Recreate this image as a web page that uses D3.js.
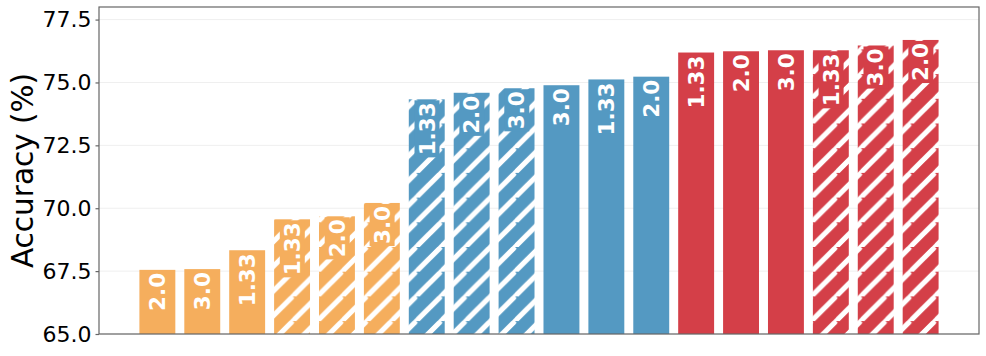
<!DOCTYPE html>
<html>
<head>
<meta charset="utf-8">
<script src="https://cdn.jsdelivr.net/npm/d3@7"></script>
<style>
  html, body { margin: 0; padding: 0; background: #fff; }
  svg { display: block; }
</style>
</head>
<body>
<svg id="chart" width="986" height="356"></svg>
<script>
// ---- data ----
const labels  = ["2.0","3.0","1.33","1.33","2.0","3.0","1.33","2.0","3.0","3.0","1.33","2.0","1.33","2.0","3.0","1.33","3.0","2.0"];
const groups  = ["orange","orange","orange","orange","orange","orange","blue","blue","blue","blue","blue","blue","red","red","red","red","red","red"];
const hatched = [false,false,false,true,true,true,true,true,true,false,false,false,false,false,false,true,true,true];
const values  = [67.55,67.58,68.33,69.56,69.68,70.21,74.33,74.59,74.77,74.89,75.12,75.23,76.19,76.24,76.28,76.28,76.47,76.69];
const yTicks  = [65.0,67.5,70.0,72.5,75.0,77.5];
const yLabel  = "Accuracy (%)";

const colors = { orange: "#f5ae5d", blue: "#5499c2", red: "#d43f48" };

// ---- layout ----
const svg = d3.select("#chart");
const L = 99, R = 979, T = 7, B = 334;

const x = d3.scaleLinear().domain([-1.3, 18.3]).range([L, R]);
const y = d3.scaleLinear().domain([65, 78]).range([B, T]);
const barW = x(0.8) - x(0);

// hatch patterns
const defs = svg.append("defs");
const P = 24.7;
Object.entries(colors).forEach(([k, c]) => {
  const p = defs.append("pattern")
    .attr("id", "hatch-" + k)
    .attr("patternUnits", "userSpaceOnUse")
    .attr("width", P).attr("height", P)
    .attr("x", 21).attr("y", 0);
  p.append("rect").attr("width", P).attr("height", P).attr("fill", c);
  const sw = 4.8;
  [[-P, P, 0, 0], [0, P, P, 0], [0, 2 * P, 2 * P, 0], [-P, 2*P, P, 0]].forEach(([x1, y1, x2, y2]) => {
    p.append("line").attr("x1", x1).attr("y1", y1).attr("x2", x2).attr("y2", y2)
      .attr("stroke", "#fff").attr("stroke-width", sw);
  });
});

// grid
svg.append("g").selectAll("line").data(yTicks).join("line")
  .attr("x1", L).attr("x2", R)
  .attr("y1", d => y(d)).attr("y2", d => y(d))
  .attr("stroke", "#efefef").attr("stroke-width", 1);

// bars
const idx = d3.range(values.length);
svg.append("g").selectAll("rect").data(idx).join("rect")
  .attr("x", i => x(i) - barW / 2)
  .attr("width", barW)
  .attr("y", i => y(values[i]))
  .attr("height", i => y(65) - y(values[i]))
  .attr("fill", i => hatched[i] ? `url(#hatch-${groups[i]})` : colors[groups[i]]);

// bar labels
const fs = 21.5;
const lg = svg.append("g");
idx.forEach(i => {
  const g = lg.append("g")
    .attr("transform", `translate(${x(i)},${y(values[i]) + 3}) rotate(-90)`);
  const t = g.append("text")
    .attr("text-anchor", "end")
    .attr("dy", "0.36em")
    .attr("font-family", "DejaVu Sans")
    .attr("font-weight", "bold")
    .attr("font-size", fs)
    .attr("fill", "#fff")
    .text(labels[i]);
  if (hatched[i]) {
    const bb = t.node().getBBox();
    const pad = 2;
    g.insert("rect", "text")
      .attr("x", bb.x - pad).attr("y", bb.y + 2 - pad)
      .attr("width", bb.width + 2 * pad).attr("height", bb.height - 4 + 2 * pad)
      .attr("fill", colors[groups[i]]);
  }
});

// axes frame
svg.append("rect")
  .attr("x", L).attr("y", T).attr("width", R - L).attr("height", B - T)
  .attr("fill", "none").attr("stroke", "#666").attr("stroke-width", 1.2);

// y axis
const yAxis = d3.axisLeft(y).tickValues(yTicks).tickFormat(d3.format(".1f")).tickSize(3.5).tickPadding(4);
const ga = svg.append("g").attr("transform", `translate(${L},0)`).call(yAxis);
ga.select(".domain").remove();
ga.selectAll(".tick line").attr("stroke", "#666").attr("stroke-width", 1.2);
ga.selectAll(".tick text")
  .attr("font-family", "DejaVu Sans")
  .attr("font-size", 22)
  .attr("fill", "#000");

// y label
svg.append("text")
  .attr("transform", `translate(32.5,${(T + B) / 2}) rotate(-90)`)
  .attr("text-anchor", "middle")
  .attr("font-family", "DejaVu Sans")
  .attr("font-size", 29.5)
  .attr("fill", "#000")
  .text(yLabel);
</script>
</body>
</html>
